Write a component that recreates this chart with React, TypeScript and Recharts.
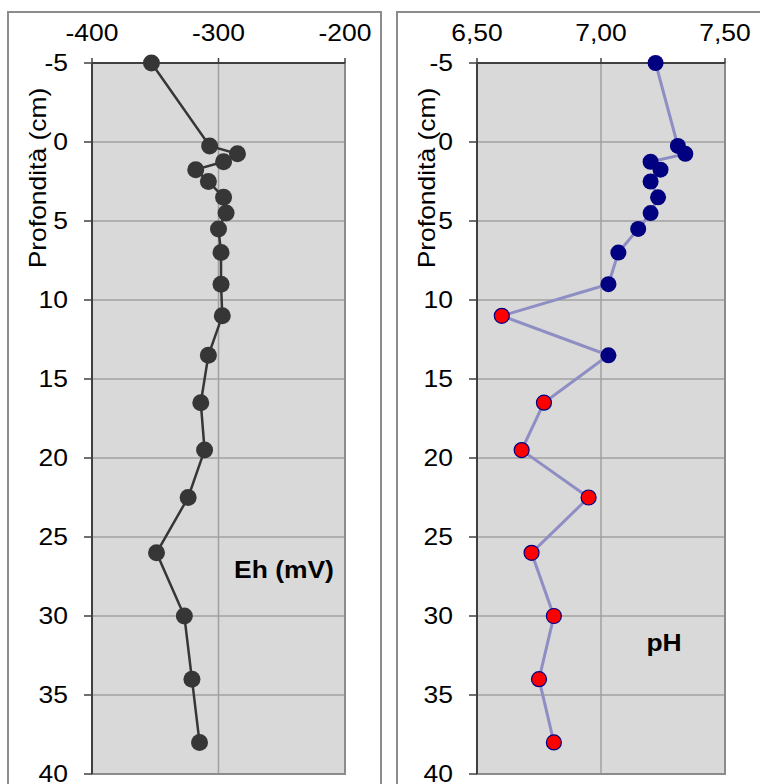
import { ScatterChart, Scatter, XAxis, YAxis, CartesianGrid, ReferenceArea } from "recharts";

// Profilo verticale: profondità (cm) e misure di Eh e pH
const DEPTH_CM = [-5, 0.25, 0.75, 1.25, 1.75, 2.5, 3.5, 4.5, 5.5, 7, 9, 11, 13.5, 16.5, 19.5, 22.5, 26, 30, 34, 38];
const EH_MV = [-353, -307, -285, -296, -318, -308, -296, -294, -300, -298, -298, -297, -308, -314, -311, -324, -349, -327, -321, -315];
const PH = [7.22, 7.31, 7.34, 7.2, 7.24, 7.2, 7.23, 7.2, 7.15, 7.07, 7.03, 6.6, 7.03, 6.77, 6.68, 6.95, 6.72, 6.81, 6.75, 6.81];

const DEPTH_TICKS = [-5, 0, 5, 10, 15, 20, 25, 30, 35, 40];
const EH_TICKS = [-400, -300, -200];
const PH_TICKS = [6.5, 7.0, 7.5];
const PH_NEUTRAL = 7;

const FONT = '"Liberation Sans", Arial, sans-serif';
const FONT_SIZE = 23;
const STRETCH = 1.15;

const ehData = DEPTH_CM.map((depth, i) => ({ depth, x: EH_MV[i] }));
const phData = DEPTH_CM.map((depth, i) => ({ depth, x: PH[i] }));

const fmtEh = (v: number) => String(v);
const fmtPh = (v: number) => v.toFixed(2).replace(".", ",");

const XTick = ({ x, payload, fmt }: any) => (
  <text transform={`translate(${x},30) scale(${STRETCH},1)`} textAnchor="middle" fontSize={FONT_SIZE} fontFamily={FONT} fill="#000">
    {fmt(payload.value)}
  </text>
);

const YTick = ({ y, payload, labelRight }: any) => (
  <text transform={`translate(${labelRight},${y}) scale(${STRETCH},1)`} textAnchor="end" dy="0.36em" fontSize={FONT_SIZE} fontFamily={FONT} fill="#000">
    {payload.value}
  </text>
);

const ehDot = (p: any) => <circle cx={p.cx} cy={p.cy} r={8.5} fill="#363636" />;

const phDot = (p: any) =>
  p.payload.x < PH_NEUTRAL ? (
    <circle cx={p.cx} cy={p.cy} r={7.5} fill="#ff0000" stroke="#000080" strokeWidth={1.2} />
  ) : (
    <circle cx={p.cx} cy={p.cy} r={8} fill="#000080" />
  );

interface PanelProps {
  left: number;
  width: number;
  plotLeft: number;
  plotRight: number;
  data: { depth: number; x: number }[];
  domain: [number, number];
  ticks: number[];
  fmt: (v: number) => string;
  lineColor: string;
  lineWidth: number;
  dot: (p: any) => any;
}

const Panel = ({ left, width, plotLeft, plotRight, data, domain, ticks, fmt, lineColor, lineWidth, dot }: PanelProps) => (
  <div style={{ position: "absolute", left, top: 11, width, height: 800 }}>
    <div style={{ position: "absolute", inset: 0, border: "2px solid #8c8c8c", boxSizing: "border-box" }} />
    <div style={{ position: "absolute", left: 0, top: 0 }}>
      <ScatterChart width={width} height={800} margin={{ top: 0, left: 0, right: width - plotRight, bottom: 37 }}>
        <CartesianGrid fill="#d9d9d9" stroke="#a0a0a0" strokeWidth={1.5} />
        <ReferenceArea x1={domain[0]} x2={domain[1]} y1={-5} y2={40} fill="none" stroke="#8c8c8c" strokeWidth={2} />
        <XAxis
          type="number"
          dataKey="x"
          orientation="top"
          domain={domain}
          ticks={ticks}
          height={52}
          tickSize={5}
          axisLine={{ stroke: "#404040", strokeWidth: 2 }}
          tickLine={{ stroke: "#404040", strokeWidth: 1.5 }}
          tick={<XTick fmt={fmt} />}
        />
        <YAxis
          type="number"
          dataKey="depth"
          domain={[-5, 40]}
          ticks={DEPTH_TICKS}
          reversed
          width={plotLeft}
          tickSize={8}
          axisLine={{ stroke: "#404040", strokeWidth: 2 }}
          tickLine={{ stroke: "#404040", strokeWidth: 1.5 }}
          tick={<YTick labelRight={plotLeft - 24} />}
        />
        <Scatter
          data={data}
          line={{ stroke: lineColor, strokeWidth: lineWidth }}
          shape={dot}
          isAnimationActive={false}
        />
      </ScatterChart>
    </div>
  </div>
);

export default function App() {
  return (
    <div style={{ position: "absolute", left: 0, top: 0, width: 760, height: 784, overflow: "hidden", background: "#fff" }}>
      <Panel
        left={7}
        width={375}
        plotLeft={85}
        plotRight={338}
        data={ehData}
        domain={[-400, -200]}
        ticks={EH_TICKS}
        fmt={fmtEh}
        lineColor="#363636"
        lineWidth={2.5}
        dot={ehDot}
      />
      <Panel
        left={396}
        width={380}
        plotLeft={81}
        plotRight={329}
        data={phData}
        domain={[6.5, 7.5]}
        ticks={PH_TICKS}
        fmt={fmtPh}
        lineColor="#8e8ec4"
        lineWidth={3}
        dot={phDot}
      />
      <svg width={760} height={784} style={{ position: "absolute", left: 0, top: 0, pointerEvents: "none" }} fontFamily={FONT}>
        <text transform={`translate(38,178) rotate(-90) scale(${STRETCH},1)`} textAnchor="middle" dy="0.36em" fontSize={FONT_SIZE}>
          Profondità (cm)
        </text>
        <text transform={`translate(427,178) rotate(-90) scale(${STRETCH},1)`} textAnchor="middle" dy="0.36em" fontSize={FONT_SIZE}>
          Profondità (cm)
        </text>
        <text transform={`translate(284,578) scale(${STRETCH},1)`} textAnchor="middle" fontSize={FONT_SIZE} fontWeight="bold">
          Eh (mV)
        </text>
        <text transform={`translate(664,651) scale(${STRETCH},1)`} textAnchor="middle" fontSize={FONT_SIZE} fontWeight="bold">
          pH
        </text>
      </svg>
    </div>
  );
}
